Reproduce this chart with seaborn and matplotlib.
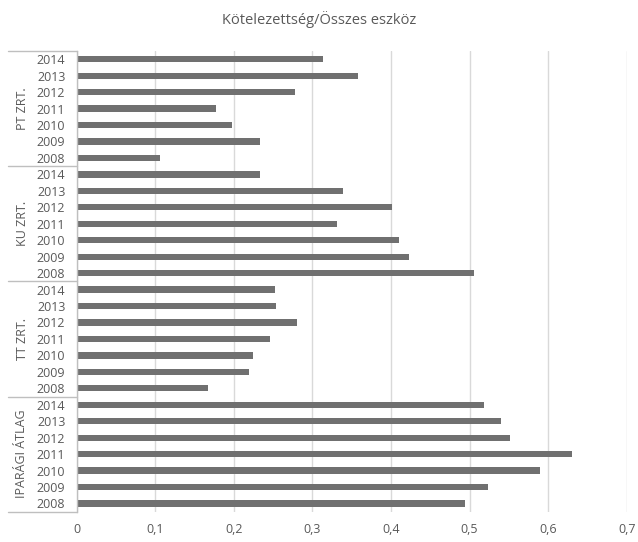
import matplotlib
matplotlib.use("Agg")
import matplotlib.pyplot as plt
import matplotlib.transforms as mtransforms
from matplotlib.ticker import FuncFormatter
import pandas as pd
import seaborn as sns

# Groups (top to bottom) and years (top to bottom within each group)
groups = ["PT ZRT.", "KU ZRT.", "TT ZRT.", "IPARÁGI ÁTLAG"]
years = ["2014", "2013", "2012", "2011", "2010", "2009", "2008"]

# Liabilities / total assets, listed 2014 -> 2008 for each group
pt_zrt = [0.314, 0.358, 0.278, 0.177, 0.198, 0.234, 0.106]
ku_zrt = [0.233, 0.339, 0.401, 0.331, 0.410, 0.423, 0.506]
tt_zrt = [0.252, 0.254, 0.280, 0.246, 0.224, 0.220, 0.167]
iparagi_atlag = [0.518, 0.540, 0.552, 0.631, 0.590, 0.524, 0.494]

title = "Kötelezettség/Összes eszköz"
x_ticks = [0, 0.1, 0.2, 0.3, 0.4, 0.5, 0.6, 0.7]

series = [pt_zrt, ku_zrt, tt_zrt, iparagi_atlag]
rows = []
for g, vals in zip(groups, series):
    for y, v in zip(years, vals):
        rows.append({"key": f"{g}|{y}", "group": g, "year": y, "value": v})
df = pd.DataFrame(rows)

sns.set_theme(style="white")
plt.rcParams["font.family"] = ["Open Sans", "DejaVu Sans"]

text_color = "#595959"
grid_color = "#d9d9d9"
line_color = "#bfbfbf"
bar_color = "#707070"

fig = plt.figure(figsize=(6.38, 5.42), dpi=100)
ax = fig.add_axes([76.5 / 638, 1 - 511.7 / 542, (626.7 - 76.5) / 638, (511.7 - 51) / 542])

sns.barplot(data=df, x="value", y="key", order=list(df["key"]), orient="h",
            color=bar_color, saturation=1, width=0.38, ax=ax, edgecolor="none")

ax.set_xlim(0, 0.7)
ax.set_ylim(len(df) - 0.5, -0.5)
ax.set_xticks(x_ticks)
ax.xaxis.set_major_formatter(FuncFormatter(
    lambda v, p: "0" if abs(v) < 1e-9 else f"{v:.1f}".replace(".", ",")))
ax.set_yticks(range(len(df)))
ax.set_yticklabels(df["year"])
ax.set_xlabel("")
ax.set_ylabel("")

ax.grid(axis="x", color=grid_color, linewidth=1)
ax.set_axisbelow(True)
for s in ["top", "right", "bottom"]:
    ax.spines[s].set_visible(False)
ax.spines["left"].set_color(line_color)
ax.spines["left"].set_linewidth(1)

ax.tick_params(axis="y", length=0, pad=8, labelsize=9, labelcolor=text_color)
ax.tick_params(axis="x", length=0, pad=8, labelsize=9, labelcolor=text_color)

fig.text(0.5, 1 - 19 / 542, title, ha="center", va="center",
         fontsize=10.5, color=text_color)

# Group separators and rotated group labels on the left
trans = mtransforms.blended_transform_factory(ax.transAxes, ax.transData)
x_left = (8 - 76.5) / (626.7 - 76.5)
n = len(years)
bounds = [-0.5] + [i * n - 0.5 for i in range(1, len(groups))] + [len(df) - 0.5]
for yb in bounds:
    ax.plot([x_left, 0], [yb, yb], transform=trans, color=line_color,
            linewidth=1, clip_on=False)
x_group = (22 - 76.5) / (626.7 - 76.5)
for i, g in enumerate(groups):
    ax.text(x_group, i * n + (n - 1) / 2, g, transform=trans, rotation=90,
            ha="center", va="center", fontsize=9, color=text_color)

fig.savefig("out.png", dpi=100, facecolor="white")
